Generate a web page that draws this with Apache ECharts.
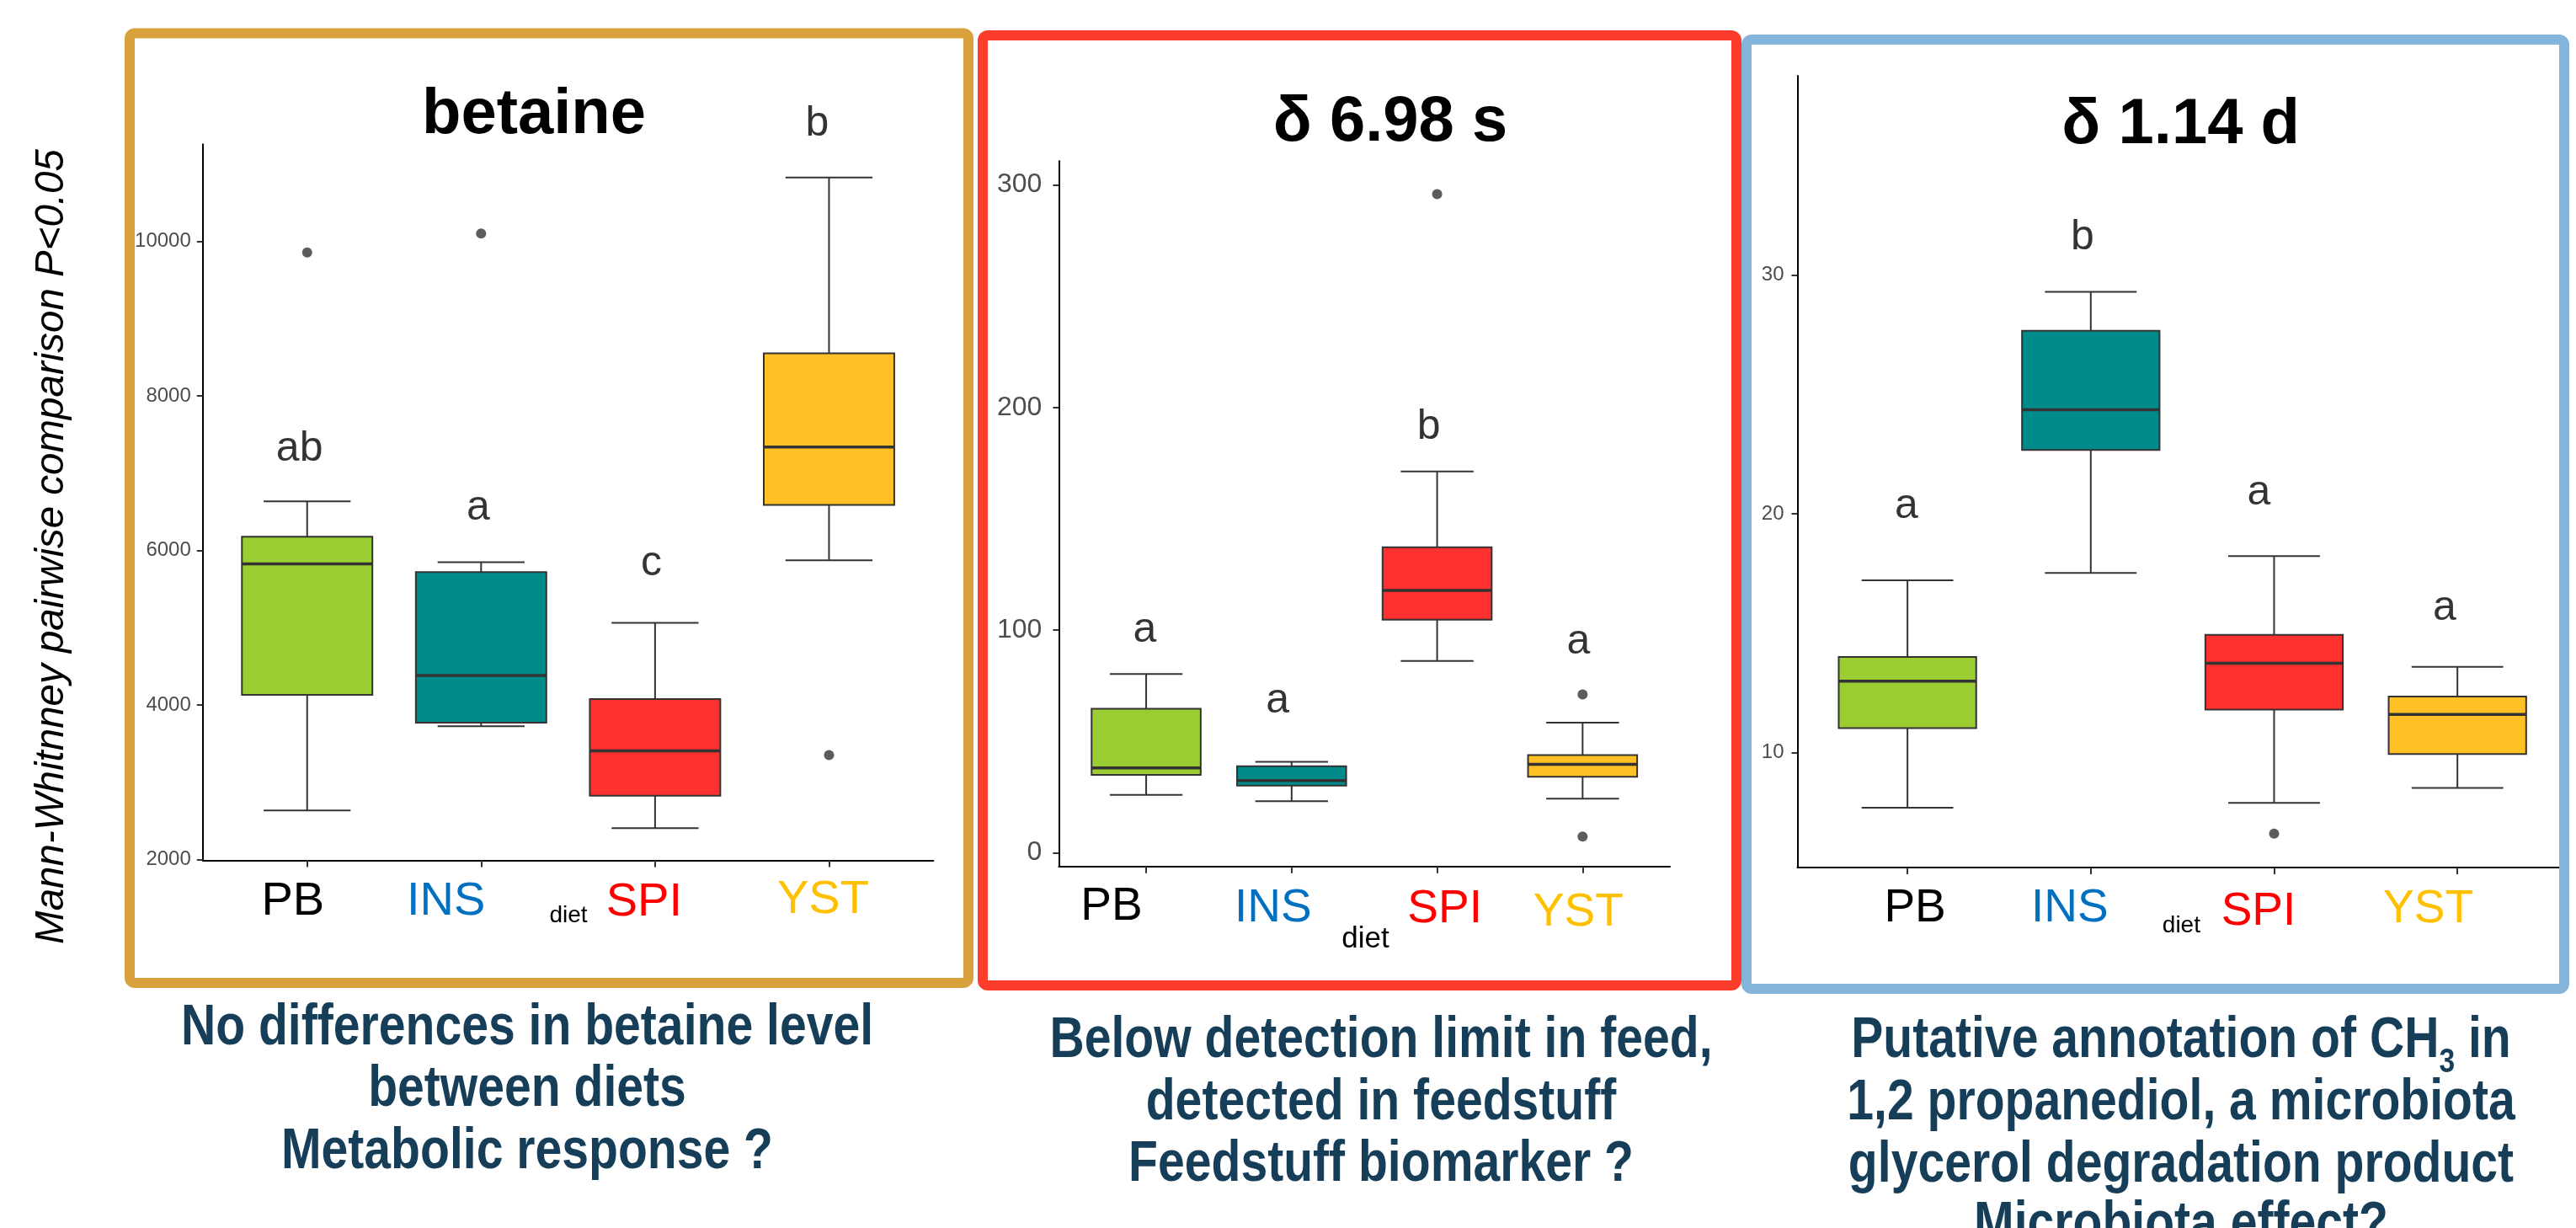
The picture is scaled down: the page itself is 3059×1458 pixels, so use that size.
<!DOCTYPE html>
<html><head><meta charset="utf-8">
<script src="https://cdn.jsdelivr.net/npm/echarts@6/dist/echarts.min.js"></script>
<style>html,body{margin:0;padding:0;background:#fff;}#c{width:3059px;height:1458px;}</style>
</head><body><div id="c"></div>
<script>
// ---------------- DATA ----------------
const categories = ['PB', 'INS', 'SPI', 'YST'];
const categoryTextColors = ['#000000', '#0070C0', '#FF0000', '#FFC000'];
const boxColors = ['#9ACD32', '#008B8B', '#FF3030', '#FFC125'];
const axisName = 'diet';
const sideLabel = 'Mann-Whitnney pairwise comparison P<0.05';

// Panel 1: betaine
const betaineTitle = 'betaine';
const betaineMin = [2634, 3725, 2405, 5870];
const betaineQ1 = [4130, 3771, 2824, 6588];
const betaineMedian = [5824, 4382, 3405, 7336];
const betaineQ3 = [6176, 5718, 4076, 8550];
const betaineMax = [6634, 5847, 5061, 10824];
const betaineOutliers = [[0, 9855], [1, 10099], [3, 3351]];
const betaineLetters = ['ab', 'a', 'c', 'b'];
const betaineLetterX = [-0.044, 0.983, 1.979, 2.932];
const betaineLetterY = [7305, 6542, 5824, 11511];
const betaineTicks = [2000, 4000, 6000, 8000, 10000];
const betaineRange = [1990, 11255];

// Panel 2: delta 6.98 s
const s698Title = 'δ 6.98 s';
const s698Min = [26.0, 23.2, 86.2, 24.3];
const s698Q1 = [35.0, 30.2, 104.7, 34.2];
const s698Median = [38.1, 32.5, 117.8, 39.7];
const s698Q3 = [64.7, 38.9, 137.2, 43.9];
const s698Max = [80.3, 40.9, 171.3, 58.5];
const s698Outliers = [[2, 295.8], [3, 71.1], [3, 7.3]];
const s698Letters = ['a', 'a', 'b', 'a'];
const s698LetterX = [-0.01, 0.904, 1.943, 2.972];
const s698LetterY = [100.1, 68.2, 191.3, 94.5];
const s698Ticks = [0, 100, 200, 300];
const s698Range = [-6.1, 310.6];

// Panel 3: delta 1.14 d
const d114Title = 'δ 1.14 d';
const d114Min = [7.70, 17.53, 7.90, 8.53];
const d114Q1 = [11.03, 22.68, 11.81, 9.95];
const d114Median = [13.00, 24.36, 13.75, 11.60];
const d114Q3 = [14.01, 27.67, 14.94, 12.35];
const d114Max = [17.22, 29.30, 18.23, 13.60];
const d114Outliers = [[2, 6.61]];
const d114Letters = ['a', 'b', 'a', 'a'];
const d114LetterX = [-0.006, 0.954, 1.917, 2.93];
const d114LetterY = [20.32, 31.57, 20.88, 16.05];
const d114Ticks = [10, 20, 30];
const d114Range = [5.19, 38.35];

// Notes under panels
const notes1 = ['No differences in betaine level', 'between diets', 'Metabolic response ?'];
const notes2 = ['Below detection limit in feed,', 'detected in feedstuff', 'Feedstuff biomarker ?'];
const notes3 = ['{n|Putative annotation of CH}{sub|3}{n| in}', '1,2 propanediol, a microbiota', 'glycerol degradation product', 'Microbiota effect?'];

// ---------------- LAYOUT / STYLE ----------------
const BOX_W = 0.75, CAP_W = 0.5;
const LINE = '#333333';
const FONT = '"Liberation Sans", Arial, sans-serif';
const NOTE_FONT = '"Liberation Sans", Arial, sans-serif';
const NOTE_COLOR = '#163E59';
const NOTE_SCALE_X = 0.84;
const MID = 0.22; // baseline offset below text middle, in em

const panelData = [
  {title: betaineTitle, min: betaineMin, q1: betaineQ1, med: betaineMedian, q3: betaineQ3, max: betaineMax,
   out: betaineOutliers, letters: betaineLetters, lx: betaineLetterX, ly: betaineLetterY, ticks: betaineTicks, range: betaineRange, notes: notes1},
  {title: s698Title, min: s698Min, q1: s698Q1, med: s698Median, q3: s698Q3, max: s698Max,
   out: s698Outliers, letters: s698Letters, lx: s698LetterX, ly: s698LetterY, ticks: s698Ticks, range: s698Range, notes: notes2},
  {title: d114Title, min: d114Min, q1: d114Q1, med: d114Median, q3: d114Q3, max: d114Max,
   out: d114Outliers, letters: d114Letters, lx: d114LetterX, ly: d114LetterY, ticks: d114Ticks, range: d114Range, notes: notes3}
];

const layout = [
  {grid: {left: 240.8, top: 171.2, width: 867.6, height: 850.2}, yFont: 24, yMargin: 14, xFont: 56,
   xDx: [-17, -41.6, -13, -7], xBase: [1093.7, 1093.7, 1097, 1090],
   title: [634, 153.7], diet: [675, 1093.7, 28],
   frame: {x: 154, y: 39.5, w: 996, h: 1127.5, color: '#D9A13B'},
   notes: {x: 626, base: [1236, 1309.3, 1383]}},
  {grid: {left: 1257.4, top: 191.3, width: 725.6, height: 837.4}, yFont: 32, yMargin: 20, xFont: 55,
   xDx: [-41, -22, 9, -5], xBase: [1099, 1102.7, 1105, 1113.8],
   title: [1651, 163.2], diet: [1621.5, 1123.4, 35],
   frame: {x: 1167, y: 42, w: 895, h: 1128, color: '#FD3D2C'},
   notes: {x: 1640, base: [1251.4, 1325.3, 1398.5]}},
  {grid: {left: 2134.5, top: 89.9, width: 914.3, height: 940.2}, yFont: 24, yMargin: 16, xFont: 55,
   xDx: [9, -25, -18.5, -34.6], xBase: [1102, 1102, 1110.8, 1105],
   title: [2589.7, 166.1], diet: [2590.4, 1105, 28],
   frame: {x: 2074, y: 47, w: 971, h: 1127, color: '#85B4DA'},
   notes: {x: 2590, base: [1251.4, 1325.1, 1398.8, 1470]}}
];

const X_LABEL_MARGIN = 10;
const NOTE_SIZE = 68;

// ---------------- BUILD ----------------
const grids = [], xAxes = [], yAxes = [], series = [], graphics = [];

panelData.forEach((p, k) => {
  const L = layout[k];
  grids.push(Object.assign({containLabel: false}, L.grid));
  const axisY = L.grid.top + L.grid.height;
  const rich = {};
  categories.forEach((c, i) => {
    const dx = L.xDx[i];
    const pt = L.xBase[i] - (axisY + X_LABEL_MARGIN) - (0.5 + MID) * L.xFont;
    rich['c' + i] = {
      color: categoryTextColors[i], fontSize: L.xFont, lineHeight: L.xFont, fontFamily: FONT,
      padding: [Math.max(0, pt), dx < 0 ? -2 * dx : 0, 0, dx > 0 ? 2 * dx : 0]
    };
  });
  xAxes.push({
    type: 'value', gridIndex: k, min: -0.6, max: 3.6,
    splitLine: {show: false},
    axisLine: {show: true, onZero: false, lineStyle: {color: '#000', width: 2}},
    axisTick: {show: true, customValues: [0, 1, 2, 3], length: 8, lineStyle: {color: LINE, width: 2}},
    axisLabel: {show: true, customValues: [0, 1, 2, 3], margin: X_LABEL_MARGIN,
      formatter: (v) => '{c' + Math.round(v) + '|' + categories[Math.round(v)] + '}', rich: rich}
  });
  yAxes.push({
    type: 'value', gridIndex: k, min: p.range[0], max: p.range[1],
    splitLine: {show: false},
    axisLine: {show: true, onZero: false, lineStyle: {color: '#000', width: 2}},
    axisTick: {show: true, customValues: p.ticks, length: 7, lineStyle: {color: LINE, width: 2}},
    axisLabel: {show: true, customValues: p.ticks, margin: L.yMargin, color: '#4D4D4D',
      fontSize: L.yFont, fontFamily: FONT, formatter: (v) => String(v)}
  });

  const boxData = categories.map((c, i) => [i, p.min[i], p.q1[i], p.med[i], p.q3[i], p.max[i], i]);
  series.push({
    type: 'custom', xAxisIndex: k, yAxisIndex: k, silent: true,
    encode: {x: 0, y: [1, 2, 3, 4, 5]},
    data: boxData,
    renderItem: function (params, api) {
      const x = api.value(0);
      const idx = api.value(6);
      const lo = api.coord([x, api.value(1)]);
      const q1 = api.coord([x, api.value(2)]);
      const md = api.coord([x, api.value(3)]);
      const q3 = api.coord([x, api.value(4)]);
      const hi = api.coord([x, api.value(5)]);
      const bw = api.size([BOX_W, 0])[0];
      const cw = api.size([CAP_W, 0])[0];
      const cx = lo[0];
      const ls = {stroke: LINE, lineWidth: 2, fill: null};
      return {type: 'group', children: [
        {type: 'line', shape: {x1: cx, y1: q3[1], x2: cx, y2: hi[1]}, style: ls},
        {type: 'line', shape: {x1: cx, y1: q1[1], x2: cx, y2: lo[1]}, style: ls},
        {type: 'line', shape: {x1: cx - cw / 2, y1: hi[1], x2: cx + cw / 2, y2: hi[1]}, style: ls},
        {type: 'line', shape: {x1: cx - cw / 2, y1: lo[1], x2: cx + cw / 2, y2: lo[1]}, style: ls},
        {type: 'rect', shape: {x: cx - bw / 2, y: q3[1], width: bw, height: q1[1] - q3[1]},
          style: {fill: boxColors[idx], stroke: LINE, lineWidth: 2}},
        {type: 'line', shape: {x1: cx - bw / 2, y1: md[1], x2: cx + bw / 2, y2: md[1]},
          style: {stroke: LINE, lineWidth: 3.5}}
      ]};
    }
  });
  series.push({
    type: 'scatter', xAxisIndex: k, yAxisIndex: k, silent: true, clip: false,
    symbol: 'circle', symbolSize: 12, itemStyle: {color: LINE},
    data: p.out
  });
  series.push({
    type: 'scatter', xAxisIndex: k, yAxisIndex: k, silent: true, clip: false,
    symbol: 'circle', symbolSize: 2, itemStyle: {color: 'rgba(0,0,0,0)'},
    label: {show: true, position: 'inside', formatter: '{b}', color: '#000', fontSize: 50, fontFamily: FONT,
      align: 'center', verticalAlign: 'middle'},
    data: p.letters.map((t, i) => ({name: t, value: [p.lx[i], p.ly[i]]}))
  });

  // title
  graphics.push({type: 'text', x: L.title[0], y: L.title[1] - MID * 76, z: 50,
    style: {text: p.title, font: 'bold 76px ' + FONT, fill: '#000', align: 'center', verticalAlign: 'middle',
      textAlign: 'center', textVerticalAlign: 'middle'}});
  // "diet"
  graphics.push({type: 'text', x: L.diet[0], y: L.diet[1] - MID * L.diet[2], z: 50,
    style: {text: axisName, font: L.diet[2] + 'px ' + FONT, fill: '#000', align: 'center', verticalAlign: 'middle',
      textAlign: 'center', textVerticalAlign: 'middle'}});
  // frame
  graphics.push({type: 'rect', z: 100, shape: {x: L.frame.x, y: L.frame.y, width: L.frame.w, height: L.frame.h, r: 6},
    style: {fill: 'none', stroke: L.frame.color, lineWidth: 12}});
  // notes
  p.notes.forEach((line, j) => {
    const txt = line.indexOf('{') >= 0 ? line : '{n|' + line + '}';
    graphics.push({type: 'text', x: L.notes.x, y: L.notes.base[j] - (0.5 + MID) * NOTE_SIZE, z: 50,
      scaleX: NOTE_SCALE_X,
      style: {text: txt, align: 'center', verticalAlign: 'top', textAlign: 'center', textVerticalAlign: 'top',
        rich: {
          n: {fontSize: NOTE_SIZE, lineHeight: NOTE_SIZE, fontWeight: 'bold', fontFamily: NOTE_FONT, fill: NOTE_COLOR, color: NOTE_COLOR, verticalAlign: 'top'},
          sub: {fontSize: 40, lineHeight: 40, fontWeight: 'bold', fontFamily: NOTE_FONT, fill: NOTE_COLOR, color: NOTE_COLOR, verticalAlign: 'top', padding: [40, 0, 0, 0]}
        }}});
  });
});

// side label
graphics.push({type: 'text', x: 62, y: 649, rotation: Math.PI / 2, z: 50,
  style: {text: sideLabel, font: 'italic 47.5px ' + FONT, fill: '#000', align: 'center', verticalAlign: 'middle',
    textAlign: 'center', textVerticalAlign: 'middle'}});

const chart = echarts.init(document.getElementById('c'), null, {renderer: 'canvas'});
chart.setOption({
  animation: false,
  backgroundColor: '#ffffff',
  grid: grids, xAxis: xAxes, yAxis: yAxes, series: series,
  graphic: {elements: graphics}
});
</script></body></html>
